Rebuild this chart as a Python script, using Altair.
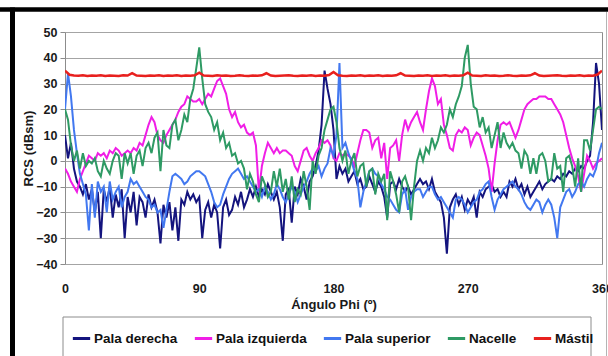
import altair as alt
import pandas as pd

# Phi step of 2 degrees (0..360) for the four blade/nacelle series
phi2 = list(range(0, 361, 2))
# Phi step of 3 degrees for the mast
phi3 = list(range(0, 361, 3))

pala_derecha = [
    10, 1, 7, -3, -8, -10, -13, -9, -15, -11,
    -20, -12, -30, -11, -16, -10, -22, -13, -18, -11,
    -30, -14, -20, -12, -25, -14, -16, -22, -13, -18,
    -15, -20, -32, -17, -22, -16, -27, -18, -31, -15,
    -17, -12, -15, -13, -16, -14, -30, -19, -16, -22,
    -17, -20, -34, -18, -15, -21, -19, -14, -17, -12,
    -18, -15, -11, -14, -10, -14, -11, -13, -9, -12,
    -15, -12, -18, -31, -13, -11, -24, -10, -13, -7,
    -10, -15, -8, -6, -2, 4, 14, 35, 28, 22,
    12, -7, -2, -5, -3, -8, -6, -4, -9, -7,
    -11, -10, -6, -9, -12, -8, -10, -14, -22, -9,
    -8, -11, -7, -10, -12, -10, -13, -11, -9, -7,
    -9, -8, -11, -7, -12, -14, -16, -22, -36, -18,
    -15, -13, -17, -14, -19, -15, -17, -14, -22, -12,
    -14, -11, -10, -9, -12, -11, -14, -12, -14, -8,
    -10, -7, -11, -9, -13, -10, -14, -12, -10, -8,
    -11, -9, -8, -7, -8, -6, -7, -5, -6, -4,
    -5, -3, -4, -2, -3, 0, 2, 15, 38, 30,
    12,
]

pala_izquierda = [
    -3, -5, -8, -10, -12, -7, -4, -1, 2, 1,
    0, 3, 2, 3, 1, 4, 3, 5, 4, 2,
    3, 4, 3, 5, 4, 7, 6, 10, 14, 17,
    15, 10, 8, 7, 10, 12, 14, 16, 19, 21,
    22, 25, 24, 23, 23, 24, 22, 24, 26, 25,
    28, 31, 32, 29, 26, 20, 17, 19, 15, 13,
    14, 11, 10, 11, 6, -12, -2, 3, 7, 5,
    3, 5, 3, 4, 4, 3, 2, -2, -4, 0,
    4, 5, 2, 0, 3, 5, 8, 7, 8, 6,
    1, 0, 3, 2, 3, 2, 1, -2, 3, 8,
    12, 12, 11, 5, 8, 9, 1, 7, -7, 5,
    6, 8, 0, 10, 16, 12, 15, 17, 19, 15,
    12, 20, 27, 32, 29, 22, 24, 14, 10, 5,
    4, 10, 12, 11, 13, 12, 6, 9, 11, 10,
    6, 2, -3, -12, -1, 8, 14, 15, 14, 15,
    12, 9, 12, 16, 20, 22, 23, 24, 24, 25,
    25, 25, 24, 24, 22, 20, 18, 15, 10, 5,
    1, -2, -6, -12, -5, 2, 0, -3, -1, 0,
    1,
]

pala_superior = [
    20, 34, 25, 12, 3, -5, -9, -13, -27, -9,
    -22, -8, -12, -10, -20, -8, -15, -12, -10, -18,
    -14, -12, -7, -9, -8, -10, -12, -14, -15, -18,
    -17, -20, -19, -26, -19, -12, -6, -5, -6, -7,
    -9, -8, -6, -5, -4, -4, -5, -6, -9, -12,
    -16, -18, -17, -13, -10, -7, -5, -4, -3, -5,
    -7, -6, -8, -10, -12, -11, -14, -10, -12, -15,
    -13, -9, -11, -14, -16, -13, -10, -12, -16, -13,
    -10, -8, -5, -3, -4, -2, -6, -3, -1, 5,
    2, 10, 38, 5, 7, 3, 0, -4, -7, -18,
    -12, -8, -4, -3, -5, -6, -9, -11, -14, -15,
    -17, -19, -20, -13, -11, -19, -14, -12, -11, -11,
    -14, -12, -10, -10, -13, -15, -14, -16, -18, -20,
    -22, -15, -14, -15, -17, -20, -18, -16, -15, -12,
    -11, -9, -8, -14, -19, -15, -13, -11, -10, -9,
    -8, -10, -11, -13, -16, -18, -19, -17, -15, -16,
    -20, -17, -15, -17, -22, -30, -18, -15, -12, -11,
    -14, -12, -9, -8, -10, -7, -5, -6, -3, 3,
    7,
]

nacelle = [
    20, 16, 6, 0, 4, -3, 3, -2, 0, -1,
    1, -4, -6, 0, -3, -5, 0, 3, 2, -7,
    3, -1, 3, -5, 2, 4, -2, 5, 7, 3,
    9, 11, -4, 12, 6, 5, 14, 16, 8, 12,
    18, 15, 24, 28, 36, 44, 32, 22, 19, 17,
    12, 15, 8, 11, 5, 7, 2, 3, -1, 0,
    -3, -11, -5, -8, -13, -16, -6, -9, -14, -12,
    -4, -10, -3, -12, -7, -15, -6, -16, -11, -13,
    -4, -10, -19, 0, -5, 2, 5, 12, 16, 20,
    21, 15, 5, 0, 4, -5, 0, 3, -6, -2,
    -1, -10, -4, -3, -13, -5, -8, -5, -23, -4,
    -8, -13, -20, -8, -6, -10, -23, -10, 0, 4,
    0, 5, 3, 9, 5, 8, 13, 11, 14, 20,
    17, 22, 25, 29, 40, 45, 30, 21, 20, 13,
    17, 11, 13, 5, 10, 15, 5, 11, 7, 5,
    7, 4, 3, -3, 4, 2, -5, 1, -5, 2,
    3, 0, -8, -7, 3, -3, -2, -12, 1, 2,
    -2, -10, 1, -12, 8, 8, 4, 12, 20, 21,
    20,
]

mastil = [
    35.0, 33.4, 33.1, 33.0, 33.2, 32.9, 33.1, 33.0, 33.2, 32.9,
    33.1, 33.0, 32.9, 33.2, 33.1, 34.0, 33.1, 33.0, 32.9, 33.1,
    33.0, 33.2, 32.9, 33.1, 33.0, 33.2, 32.9, 33.1, 33.0, 33.2,
    34.2, 33.1, 33.0, 32.9, 33.2, 33.0, 33.1, 32.9, 33.0, 33.2,
    33.0, 32.9, 33.1, 33.0, 33.2, 34.0, 33.1, 32.9, 33.0, 33.1,
    33.2, 33.0, 32.9, 33.1, 33.0, 33.2, 32.9, 33.1, 33.0, 33.3,
    34.5, 33.2, 33.0, 32.9, 33.1, 33.0, 33.2, 32.9, 33.1, 33.0,
    33.2, 32.9, 33.1, 33.0, 33.2, 34.0, 33.1, 33.0, 32.9, 33.1,
    33.0, 33.2, 32.9, 33.1, 33.0, 33.2, 32.9, 33.1, 33.0, 33.2,
    34.2, 33.1, 33.0, 32.9, 33.2, 33.0, 33.1, 32.9, 33.0, 33.2,
    33.0, 32.9, 33.1, 33.0, 33.2, 34.0, 33.1, 32.9, 33.0, 33.1,
    33.2, 33.0, 32.9, 33.1, 33.0, 33.2, 32.9, 33.1, 33.0, 33.5,
    35.0,
]

series_names = ["Pala derecha", "Pala izquierda", "Pala superior", "Nacelle", "Mástil"]
series_colors = ["#14147e", "#f01ee6", "#4278f0", "#2e9a64", "#e8201e"]
x_ticks = [0, 90, 180, 270, 360]
y_ticks = [-40, -30, -20, -10, 0, 10, 20, 30, 40, 50]

frames = []
for name, xs, vals in [
    ("Pala derecha", phi2, pala_derecha),
    ("Pala izquierda", phi2, pala_izquierda),
    ("Pala superior", phi2, pala_superior),
    ("Nacelle", phi2, nacelle),
    ("Mástil", phi3, mastil),
]:
    frames.append(pd.DataFrame({"serie": name, "phi": xs, "rcs": vals}))
df = pd.concat(frames, ignore_index=True)

FONT = "Liberation Sans"

x_enc = alt.X(
    "phi:Q",
    scale=alt.Scale(domain=[0, 360], nice=False, zero=False),
    axis=alt.Axis(
        values=x_ticks, title="Ángulo Phi (º)", grid=False, domain=False, ticks=False,
        labelPadding=18, labelFont=FONT, labelFontSize=12.5, labelFontWeight="bold",
        labelColor="#1a1a1a", titleFont=FONT, titleFontSize=13, titleFontWeight="bold",
        titleColor="#1a1a1a", titlePadding=4, labelOverlap=False, labelFlush=False,
    ),
)
y_enc = alt.Y(
    "rcs:Q",
    scale=alt.Scale(domain=[-40, 50], nice=False),
    axis=alt.Axis(
        values=y_ticks, title="RCS (dBsm)", grid=True, gridColor="#a4a4a4", gridWidth=1,
        domain=False, ticks=True, tickColor="#8c8c8c", tickSize=5, labelPadding=3,
        labelFont=FONT, labelFontSize=12.5, labelFontWeight="bold", labelColor="#1a1a1a",
        titleFont=FONT, titleFontSize=13, titleFontWeight="bold", titleColor="#1a1a1a",
        titlePadding=0,
    ),
)
color_enc = alt.Color(
    "serie:N",
    scale=alt.Scale(domain=series_names, range=series_colors),
    legend=alt.Legend(
        title=None, orient="none", legendX=6, legendY=296, direction="horizontal",
        columns=5, columnPadding=10, padding=0, symbolType="stroke", symbolSize=300,
        symbolStrokeWidth=3, labelOffset=2, labelFont=FONT, labelFontSize=13.5,
        labelFontWeight="bold", labelColor="#111111", labelLimit=0,
    ),
)

layers = []
for name in series_names:
    layers.append(
        alt.Chart(df)
        .transform_filter(alt.datum.serie == name)
        .mark_line(strokeWidth=2.5 if name == "Mástil" else 2, clip=True)
        .encode(x=x_enc, y=y_enc, color=color_enc, order="phi:Q")
    )

one = pd.DataFrame({"k": [0]})
top_border = alt.Chart(one).mark_rule(color="black", strokeWidth=4.5).encode(
    x=alt.value(-70), x2=alt.value(560), y=alt.value(-22.5)
)
left_border = alt.Chart(one).mark_rule(color="black", strokeWidth=5).encode(
    x=alt.value(-52.5), y=alt.value(-24.5), y2=alt.value(340)
)
right_border = alt.Chart(one).mark_rule(color="#b4b4b4", strokeWidth=1).encode(
    x=alt.value(541.5), y=alt.value(-20), y2=alt.value(340)
)
legend_box = alt.Chart(one).mark_rect(filled=False, stroke="#8c8c8c", strokeWidth=1).encode(
    x=alt.value(-2), x2=alt.value(526), y=alt.value(285), y2=alt.value(345)
)

chart = (
    alt.layer(top_border, left_border, right_border, legend_box, *layers)
    .properties(
        width=537, height=232,
        autosize=alt.AutoSizeParams(type="none"),
        padding={"left": 65, "top": 32, "right": 6, "bottom": 92},
        background="white",
    )
    .configure_view(stroke="#8c8c8c", strokeWidth=1)
)

chart.save("out.html", embed_options={"renderer": "svg", "actions": False})
